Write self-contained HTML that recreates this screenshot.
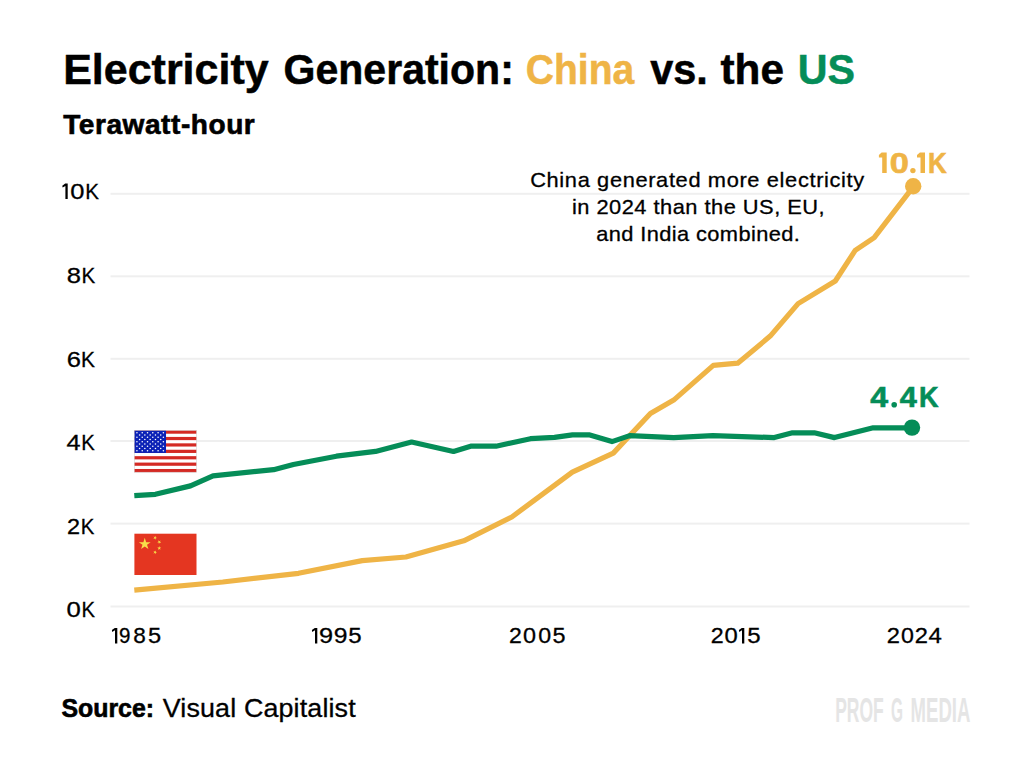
<!DOCTYPE html>
<html><head><meta charset="utf-8"><style>
html,body{margin:0;padding:0;background:#fff;}
body{width:1024px;height:774px;position:relative;overflow:hidden;font-family:"Liberation Sans",sans-serif;}
</style></head><body>
<svg width="1024" height="774" viewBox="0 0 1024 774" style="position:absolute;left:0;top:0">
<style>text{font-family:"Liberation Sans",sans-serif;}</style>
<rect x="110.5" y="192.80" width="859" height="2" fill="#efefef"/><rect x="110.5" y="275.30" width="859" height="2" fill="#efefef"/><rect x="110.5" y="357.80" width="859" height="2" fill="#efefef"/><rect x="110.5" y="440.00" width="859" height="2" fill="#efefef"/><rect x="110.5" y="522.60" width="859" height="2" fill="#efefef"/><rect x="110.5" y="605.50" width="859" height="2" fill="#efefef"/>
<text x="63.20" y="83.90" textLength="205.42" lengthAdjust="spacingAndGlyphs" style="font-size:42px;font-weight:700" fill="#000000" stroke="#000000" stroke-width="0.50">Electricity</text>
<text x="283.60" y="83.90" textLength="230.20" lengthAdjust="spacingAndGlyphs" style="font-size:42px;font-weight:700" fill="#000000" stroke="#000000" stroke-width="0.50">Generation:</text>
<text x="525.80" y="83.90" textLength="108.40" lengthAdjust="spacingAndGlyphs" style="font-size:42px;font-weight:700" fill="#efb446" stroke="#efb446" stroke-width="0.50">China</text>
<text x="650.30" y="83.90" textLength="57.57" lengthAdjust="spacingAndGlyphs" style="font-size:42px;font-weight:700" fill="#000000" stroke="#000000" stroke-width="0.50">vs.</text>
<text x="720.50" y="83.90" textLength="63.42" lengthAdjust="spacingAndGlyphs" style="font-size:42px;font-weight:700" fill="#000000" stroke="#000000" stroke-width="0.50">the</text>
<text x="797.70" y="83.90" textLength="57.30" lengthAdjust="spacingAndGlyphs" style="font-size:42px;font-weight:700" fill="#058d58" stroke="#058d58" stroke-width="0.50">US</text>
<text x="63.20" y="134.30" textLength="192.16" lengthAdjust="spacingAndGlyphs" style="font-size:27px;font-weight:700;letter-spacing:0.535px" fill="#000000" stroke="#000000" stroke-width="0.60">Terawatt-hour</text>
<text x="530.20" y="186.60" textLength="334.67" lengthAdjust="spacingAndGlyphs" style="font-size:21px;font-weight:400;letter-spacing:0.622px" fill="#000000" stroke="#000000" stroke-width="0.30">China generated more electricity</text>
<text x="571.90" y="214.00" textLength="253.26" lengthAdjust="spacingAndGlyphs" style="font-size:21px;font-weight:400;letter-spacing:0.468px" fill="#000000" stroke="#000000" stroke-width="0.30">in 2024 than the US, EU,</text>
<text x="596.30" y="241.30" textLength="203.93" lengthAdjust="spacingAndGlyphs" style="font-size:21px;font-weight:400;letter-spacing:0.370px" fill="#000000" stroke="#000000" stroke-width="0.30">and India combined.</text>
<text x="61.40" y="717.30" textLength="92.68" lengthAdjust="spacingAndGlyphs" style="font-size:25px;font-weight:700" fill="#000000" stroke="#000000" stroke-width="0.60">Source:</text>
<text x="162.80" y="717.10" textLength="193.01" lengthAdjust="spacingAndGlyphs" style="font-size:26px;font-weight:400;letter-spacing:0.137px" fill="#000000" stroke="#000000" stroke-width="0.30">Visual Capitalist</text>
<path d="M117.30,627.90 L117.30,643.40 L115.00,643.40 L115.00,630.30 L112.20,631.90 L111.90,630.10 L114.80,627.90 Z" fill="#000000"/>
<text x="119.09" y="643.40" textLength="11.44" lengthAdjust="spacingAndGlyphs" style="font-size:22px;font-weight:400" fill="#000000" stroke="#000000" stroke-width="0.30">9</text>
<text x="133.17" y="643.40" textLength="12.56" lengthAdjust="spacingAndGlyphs" style="font-size:22px;font-weight:400" fill="#000000" stroke="#000000" stroke-width="0.30">8</text>
<text x="148.00" y="643.40" textLength="13.14" lengthAdjust="spacingAndGlyphs" style="font-size:22px;font-weight:400" fill="#000000" stroke="#000000" stroke-width="0.30">5</text>
<path d="M317.30,627.90 L317.30,643.40 L315.00,643.40 L315.00,630.30 L312.20,631.90 L311.90,630.10 L314.80,627.90 Z" fill="#000000"/>
<text x="319.06" y="643.40" textLength="14.09" lengthAdjust="spacingAndGlyphs" style="font-size:22px;font-weight:400" fill="#000000" stroke="#000000" stroke-width="0.30">9</text>
<text x="333.69" y="643.40" textLength="13.73" lengthAdjust="spacingAndGlyphs" style="font-size:22px;font-weight:400" fill="#000000" stroke="#000000" stroke-width="0.30">9</text>
<text x="348.29" y="643.40" textLength="13.37" lengthAdjust="spacingAndGlyphs" style="font-size:22px;font-weight:400" fill="#000000" stroke="#000000" stroke-width="0.30">5</text>
<text x="509.09" y="643.40" textLength="12.82" lengthAdjust="spacingAndGlyphs" style="font-size:22px;font-weight:400" fill="#000000" stroke="#000000" stroke-width="0.30">2</text>
<text x="522.93" y="643.40" textLength="13.03" lengthAdjust="spacingAndGlyphs" style="font-size:22px;font-weight:400" fill="#000000" stroke="#000000" stroke-width="0.30">0</text>
<text x="538.24" y="643.40" textLength="12.91" lengthAdjust="spacingAndGlyphs" style="font-size:22px;font-weight:400" fill="#000000" stroke="#000000" stroke-width="0.30">0</text>
<text x="552.51" y="643.40" textLength="13.02" lengthAdjust="spacingAndGlyphs" style="font-size:22px;font-weight:400" fill="#000000" stroke="#000000" stroke-width="0.30">5</text>
<text x="710.68" y="643.40" textLength="12.94" lengthAdjust="spacingAndGlyphs" style="font-size:22px;font-weight:400" fill="#000000" stroke="#000000" stroke-width="0.30">2</text>
<text x="724.42" y="643.40" textLength="13.26" lengthAdjust="spacingAndGlyphs" style="font-size:22px;font-weight:400" fill="#000000" stroke="#000000" stroke-width="0.30">0</text>
<path d="M744.30,627.90 L744.30,643.40 L742.00,643.40 L742.00,630.30 L739.20,631.90 L738.90,630.10 L741.80,627.90 Z" fill="#000000"/>
<text x="747.29" y="643.40" textLength="13.37" lengthAdjust="spacingAndGlyphs" style="font-size:22px;font-weight:400" fill="#000000" stroke="#000000" stroke-width="0.30">5</text>
<text x="886.66" y="643.40" textLength="13.18" lengthAdjust="spacingAndGlyphs" style="font-size:22px;font-weight:400" fill="#000000" stroke="#000000" stroke-width="0.30">2</text>
<text x="900.94" y="643.40" textLength="12.91" lengthAdjust="spacingAndGlyphs" style="font-size:22px;font-weight:400" fill="#000000" stroke="#000000" stroke-width="0.30">0</text>
<text x="914.66" y="643.40" textLength="13.18" lengthAdjust="spacingAndGlyphs" style="font-size:22px;font-weight:400" fill="#000000" stroke="#000000" stroke-width="0.30">2</text>
<text x="928.60" y="643.40" textLength="13.35" lengthAdjust="spacingAndGlyphs" style="font-size:22px;font-weight:400" fill="#000000" stroke="#000000" stroke-width="0.30">4</text>
<path d="M67.70,183.60 L67.70,199.10 L65.40,199.10 L65.40,186.00 L62.60,187.60 L62.30,185.80 L65.20,183.60 Z" fill="#000000"/>
<text x="70.35" y="199.10" textLength="14.19" lengthAdjust="spacingAndGlyphs" style="font-size:22px;font-weight:400" fill="#000000" stroke="#000000" stroke-width="0.30">0</text>
<text x="85.26" y="199.10" textLength="13.72" lengthAdjust="spacingAndGlyphs" style="font-size:22px;font-weight:400" fill="#000000" stroke="#000000" stroke-width="0.30">K</text>
<text x="66.74" y="282.50" textLength="14.22" lengthAdjust="spacingAndGlyphs" style="font-size:22px;font-weight:400" fill="#000000" stroke="#000000" stroke-width="0.30">8</text>
<text x="81.46" y="282.50" textLength="13.72" lengthAdjust="spacingAndGlyphs" style="font-size:22px;font-weight:400" fill="#000000" stroke="#000000" stroke-width="0.30">K</text>
<text x="66.75" y="366.90" textLength="14.22" lengthAdjust="spacingAndGlyphs" style="font-size:22px;font-weight:400" fill="#000000" stroke="#000000" stroke-width="0.30">6</text>
<text x="81.03" y="366.90" textLength="13.95" lengthAdjust="spacingAndGlyphs" style="font-size:22px;font-weight:400" fill="#000000" stroke="#000000" stroke-width="0.30">K</text>
<text x="66.57" y="450.20" textLength="14.02" lengthAdjust="spacingAndGlyphs" style="font-size:22px;font-weight:400" fill="#000000" stroke="#000000" stroke-width="0.30">4</text>
<text x="81.29" y="450.20" textLength="13.49" lengthAdjust="spacingAndGlyphs" style="font-size:22px;font-weight:400" fill="#000000" stroke="#000000" stroke-width="0.30">K</text>
<text x="67.07" y="533.70" textLength="13.06" lengthAdjust="spacingAndGlyphs" style="font-size:22px;font-weight:400" fill="#000000" stroke="#000000" stroke-width="0.30">2</text>
<text x="80.68" y="533.70" textLength="13.60" lengthAdjust="spacingAndGlyphs" style="font-size:22px;font-weight:400" fill="#000000" stroke="#000000" stroke-width="0.30">K</text>
<text x="66.54" y="616.80" textLength="14.31" lengthAdjust="spacingAndGlyphs" style="font-size:22px;font-weight:400" fill="#000000" stroke="#000000" stroke-width="0.30">0</text>
<text x="81.49" y="616.80" textLength="13.49" lengthAdjust="spacingAndGlyphs" style="font-size:22px;font-weight:400" fill="#000000" stroke="#000000" stroke-width="0.30">K</text>
<path d="M882.50,152.50 L886.70,152.50 L886.70,173.00 L882.20,173.00 L882.20,157.50 L878.90,157.50 L878.90,154.90 L881.60,152.50 Z" fill="#efb446"/>
<text x="889.74" y="173.00" textLength="19.18" lengthAdjust="spacingAndGlyphs" style="font-size:29px;font-weight:700" fill="#efb446" stroke="#efb446" stroke-width="0.60">0</text>
<circle cx="912.9" cy="170.6" r="2.7" fill="#efb446"/>
<path d="M920.80,152.50 L925.00,152.50 L925.00,173.00 L920.50,173.00 L920.50,157.50 L917.00,157.50 L917.00,154.90 L919.90,152.50 Z" fill="#efb446"/>
<text x="927.96" y="173.00" textLength="18.78" lengthAdjust="spacingAndGlyphs" style="font-size:29px;font-weight:700" fill="#efb446" stroke="#efb446" stroke-width="0.60">K</text>
<text x="870.31" y="407.40" textLength="17.86" lengthAdjust="spacingAndGlyphs" style="font-size:29px;font-weight:700" fill="#058d58" stroke="#058d58" stroke-width="0.60">4</text>
<circle cx="894.2" cy="404.7" r="2.8" fill="#058d58"/>
<text x="899.83" y="407.40" textLength="17.13" lengthAdjust="spacingAndGlyphs" style="font-size:29px;font-weight:700" fill="#058d58" stroke="#058d58" stroke-width="0.60">4</text>
<text x="918.99" y="407.40" textLength="19.56" lengthAdjust="spacingAndGlyphs" style="font-size:29px;font-weight:700" fill="#058d58" stroke="#058d58" stroke-width="0.60">K</text>

<rect x="134.30" y="430.50" width="62.20" height="41.70" fill="#fff"/><rect x="134.30" y="430.50" width="62.20" height="3.21" fill="#d42a24"/><rect x="134.30" y="436.92" width="62.20" height="3.21" fill="#d42a24"/><rect x="134.30" y="443.33" width="62.20" height="3.21" fill="#d42a24"/><rect x="134.30" y="449.75" width="62.20" height="3.21" fill="#d42a24"/><rect x="134.30" y="456.16" width="62.20" height="3.21" fill="#d42a24"/><rect x="134.30" y="462.58" width="62.20" height="3.21" fill="#d42a24"/><rect x="134.30" y="468.99" width="62.20" height="3.21" fill="#d42a24"/><rect x="134.30" y="430.50" width="31.72" height="22.45" fill="#0c22b6"/><circle cx="136.94" cy="432.75" r="0.78" fill="#fff"/><circle cx="142.23" cy="432.75" r="0.78" fill="#fff"/><circle cx="147.52" cy="432.75" r="0.78" fill="#fff"/><circle cx="152.80" cy="432.75" r="0.78" fill="#fff"/><circle cx="158.09" cy="432.75" r="0.78" fill="#fff"/><circle cx="163.38" cy="432.75" r="0.78" fill="#fff"/><circle cx="139.59" cy="434.99" r="0.78" fill="#fff"/><circle cx="144.87" cy="434.99" r="0.78" fill="#fff"/><circle cx="150.16" cy="434.99" r="0.78" fill="#fff"/><circle cx="155.45" cy="434.99" r="0.78" fill="#fff"/><circle cx="160.74" cy="434.99" r="0.78" fill="#fff"/><circle cx="136.94" cy="437.24" r="0.78" fill="#fff"/><circle cx="142.23" cy="437.24" r="0.78" fill="#fff"/><circle cx="147.52" cy="437.24" r="0.78" fill="#fff"/><circle cx="152.80" cy="437.24" r="0.78" fill="#fff"/><circle cx="158.09" cy="437.24" r="0.78" fill="#fff"/><circle cx="163.38" cy="437.24" r="0.78" fill="#fff"/><circle cx="139.59" cy="439.48" r="0.78" fill="#fff"/><circle cx="144.87" cy="439.48" r="0.78" fill="#fff"/><circle cx="150.16" cy="439.48" r="0.78" fill="#fff"/><circle cx="155.45" cy="439.48" r="0.78" fill="#fff"/><circle cx="160.74" cy="439.48" r="0.78" fill="#fff"/><circle cx="136.94" cy="441.73" r="0.78" fill="#fff"/><circle cx="142.23" cy="441.73" r="0.78" fill="#fff"/><circle cx="147.52" cy="441.73" r="0.78" fill="#fff"/><circle cx="152.80" cy="441.73" r="0.78" fill="#fff"/><circle cx="158.09" cy="441.73" r="0.78" fill="#fff"/><circle cx="163.38" cy="441.73" r="0.78" fill="#fff"/><circle cx="139.59" cy="443.97" r="0.78" fill="#fff"/><circle cx="144.87" cy="443.97" r="0.78" fill="#fff"/><circle cx="150.16" cy="443.97" r="0.78" fill="#fff"/><circle cx="155.45" cy="443.97" r="0.78" fill="#fff"/><circle cx="160.74" cy="443.97" r="0.78" fill="#fff"/><circle cx="136.94" cy="446.22" r="0.78" fill="#fff"/><circle cx="142.23" cy="446.22" r="0.78" fill="#fff"/><circle cx="147.52" cy="446.22" r="0.78" fill="#fff"/><circle cx="152.80" cy="446.22" r="0.78" fill="#fff"/><circle cx="158.09" cy="446.22" r="0.78" fill="#fff"/><circle cx="163.38" cy="446.22" r="0.78" fill="#fff"/><circle cx="139.59" cy="448.46" r="0.78" fill="#fff"/><circle cx="144.87" cy="448.46" r="0.78" fill="#fff"/><circle cx="150.16" cy="448.46" r="0.78" fill="#fff"/><circle cx="155.45" cy="448.46" r="0.78" fill="#fff"/><circle cx="160.74" cy="448.46" r="0.78" fill="#fff"/><circle cx="136.94" cy="450.71" r="0.78" fill="#fff"/><circle cx="142.23" cy="450.71" r="0.78" fill="#fff"/><circle cx="147.52" cy="450.71" r="0.78" fill="#fff"/><circle cx="152.80" cy="450.71" r="0.78" fill="#fff"/><circle cx="158.09" cy="450.71" r="0.78" fill="#fff"/><circle cx="163.38" cy="450.71" r="0.78" fill="#fff"/><rect x="134.30" y="430.50" width="62.20" height="41.70" fill="none" stroke="#ccc" stroke-width="0.5"/>
<rect x="134.40" y="533.70" width="62.10" height="41.30" fill="#e43621"/><polygon points="144.75,537.84 146.14,542.13 150.66,542.13 147.01,544.78 148.40,549.07 144.75,546.42 141.10,549.07 142.49,544.78 138.84,542.13 143.36,542.13" fill="#f7df4a"/><polygon points="155.91,535.93 155.78,537.43 157.16,538.02 155.70,538.36 155.57,539.86 154.79,538.57 153.33,538.91 154.31,537.77 153.54,536.48 154.92,537.07" fill="#f7df4a"/><polygon points="160.70,540.52 160.02,541.86 161.08,542.92 159.60,542.68 158.92,544.02 158.68,542.54 157.20,542.30 158.54,541.62 158.30,540.14 159.36,541.20" fill="#f7df4a"/><polygon points="161.19,547.48 160.00,548.41 160.51,549.82 159.27,548.98 158.08,549.91 158.50,548.46 157.25,547.62 158.75,547.57 159.17,546.12 159.68,547.53" fill="#f7df4a"/><polygon points="155.81,550.38 155.76,551.89 157.17,552.40 155.72,552.82 155.67,554.32 154.83,553.07 153.38,553.49 154.31,552.30 153.47,551.06 154.88,551.57" fill="#f7df4a"/>
<polyline points="134.3,590.1 222.8,582.0 298.5,573.3 362.2,560.6 405.9,557.0 463.8,540.8 511.8,517.0 572.3,472.1 613.3,453.1 650.4,413.5 673.7,400.1 713.3,365.4 737.7,363.2 770.2,336.1 798.1,303.6 835.3,281.0 855.2,250.4 874.2,237.7 913.0,187.1" fill="none" stroke="#efb446" stroke-width="5.2" stroke-linejoin="round" stroke-linecap="butt"/>
<polyline points="134.3,495.7 155.4,494.3 190.5,485.9 213.0,475.8 273.6,469.7 293.4,464.5 336.4,456.2 375.5,451.4 411.6,442.0 453.5,451.5 471.5,446.0 496.0,446.2 530.5,438.7 554.5,437.3 572.5,434.8 589.0,434.8 612.0,441.6 629.7,435.6 673.7,437.6 712.8,435.7 774.3,437.6 792.5,432.8 814.3,432.8 834.5,437.6 873.2,427.8 912.0,427.8" fill="none" stroke="#058d58" stroke-width="5.2" stroke-linejoin="round" stroke-linecap="butt"/>
<circle cx="912" cy="427.6" r="8.2" fill="#058d58"/>
<circle cx="913.2" cy="186.3" r="8.2" fill="#efb446"/>
<g style="font-size:34.5px;font-weight:700" fill="#e5e5e5">
<text x="835.2" y="721.6" textLength="48.6" lengthAdjust="spacingAndGlyphs">PROF</text>
<text x="891.0" y="721.6" textLength="12.0" lengthAdjust="spacingAndGlyphs">G</text>
<text x="910.6" y="721.6" textLength="59.8" lengthAdjust="spacingAndGlyphs">MEDIA</text>
</g>
</svg>
</body></html>
